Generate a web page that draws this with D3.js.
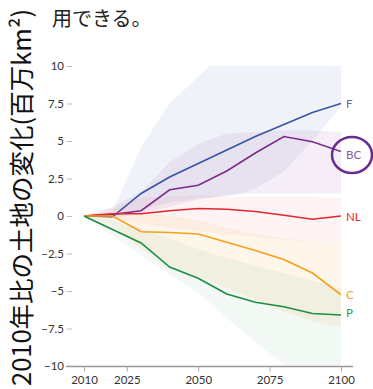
<!DOCTYPE html>
<html>
<head>
<meta charset="utf-8">
<script src="https://cdn.jsdelivr.net/npm/d3@7"></script>
<style>
  body { margin: 0; background: #fff; }
  svg { display: block; }
  .tick text { font-family: Lato, "Open Sans", sans-serif; font-size: 11.5px; fill: #333; }
</style>
</head>
<body>
<svg id="chart" width="373" height="389"></svg>
<script>
// years sampled by the scenario runs
const years = [2010, 2020, 2030, 2040, 2050, 2060, 2070, 2080, 2090, 2100];
const seriesNames = ["F", "BC", "NL", "C", "P"];
const seriesColors = ["#3953a4", "#7d2b8b", "#e3262e", "#f6a01a", "#1e8c45"];
const labelColors = ["#5b6db3", "#8a5a9c", "#e3262e", "#f0a030", "#2e9a55"];

// median change (million km2)
const valF  = [0, -0.05, 1.5, 2.6, 3.5, 4.4, 5.3, 6.1, 6.9, 7.5];
const valBC = [0, 0.1, 0.35, 1.75, 2.05, 3.0, 4.2, 5.3, 4.95, 4.3];
const valNL = [0, 0.15, 0.15, 0.35, 0.5, 0.45, 0.3, 0.05, -0.22, 0.0];
const valC  = [0, 0, -1.05, -1.1, -1.2, -1.75, -2.3, -2.9, -3.8, -5.25];
const valP  = [0, -0.9, -1.8, -3.4, -4.15, -5.2, -5.75, -6.05, -6.5, -6.6];

// uncertainty range, low / high
const lowF  = [0, 0, 0.4, 0.9, 1.2, 1.3, 1.8, 3.0, 5.0, 7.3];
const highF = [0, 0.3, 4.6, 7.5, 9.3, 11, 12, 13, 14, 15];
const lowBC  = [0, -0.1, 0.2, 0.6, 1.1, 1.4, 1.5, 1.5, 1.5, 1.5];
const highBC = [0, 0.6, 1.6, 3.6, 4.8, 5.5, 5.6, 5.7, 5.7, 5.6];
const lowNL  = [0, -0.2, -0.5, -0.8, -1.0, -1.2, -1.4, -1.6, -1.7, -1.8];
const highNL = [0, 0.5, 1.2, 1.3, 1.4, 1.3, 1.3, 1.3, 1.3, 1.2];
const lowC  = [0, -0.6, -2.2, -3.2, -4.0, -4.8, -5.6, -6.4, -7.0, -7.4];
const highC = [0, 0.2, 0.2, 0, -0.3, -0.8, -1.2, -1.5, -1.7, -1.8];
const lowP  = [0, -1.3, -2.6, -3.9, -5.1, -6.8, -8.4, -9.9, -11.5, -13];
const highP = [0, -0.3, -0.8, -1.5, -2.2, -2.8, -3.3, -3.8, -4.3, -4.8];

const yTicks = [10, 7.5, 5, 2.5, 0, -2.5, -5, -7.5, -10];
const xTicks = [2010, 2025, 2050, 2075, 2100];
const labelNudge = [0, 3, 1, 0, -2];

const values = [valF, valBC, valNL, valC, valP];
const lows = [lowF, lowBC, lowNL, lowC, lowP];
const highs = [highF, highBC, highNL, highC, highP];
const bandOpacity = [0.08, 0.08, 0.05, 0.09, 0.06];

const svg = d3.select("#chart");
const x = d3.scaleLinear().domain([2010, 2100]).range([84, 341]);
const y = d3.scaleLinear().domain([-10, 10]).range([366, 66]);

svg.append("defs").append("clipPath").attr("id", "plot")
  .append("rect").attr("x", 84).attr("y", 66).attr("width", 257).attr("height", 300);

const plot = svg.append("g").attr("clip-path", "url(#plot)");

// bands
const area = d3.area()
  .x((d, i) => x(years[i]))
  .y0(d => y(d[0]))
  .y1(d => y(d[1]));

seriesNames.forEach((name, s) => {
  const pts = years.map((yr, i) => [lows[s][i], highs[s][i]]);
  plot.append("path")
    .attr("d", area(pts))
    .attr("fill", seriesColors[s])
    .attr("fill-opacity", bandOpacity[s]);
});

// lines
const line = d3.line().x((d, i) => x(years[i])).y(d => y(d));
seriesNames.forEach((name, s) => {
  plot.append("path")
    .attr("d", line(values[s]))
    .attr("fill", "none")
    .attr("stroke", seriesColors[s])
    .attr("stroke-width", 1.6);
});

// end labels
seriesNames.forEach((name, s) => {
  const last = values[s][values[s].length - 1];
  svg.append("text")
    .attr("x", 346)
    .attr("y", y(last) + labelNudge[s])
    .attr("dy", "0.36em")
    .attr("font-family", "Lato, 'Open Sans', sans-serif")
    .attr("font-size", 11.5)
    .attr("fill", labelColors[s])
    .text(name);
});

// BC highlight circle
const bcEnd = y(valBC[valBC.length - 1]);
svg.append("ellipse")
  .attr("cx", 352).attr("cy", bcEnd + 3.5)
  .attr("rx", 20).attr("ry", 18)
  .attr("fill", "none")
  .attr("stroke", "#6a2c91")
  .attr("stroke-width", 2.5);

// y axis (ticks only)
const yAxis = svg.append("g").attr("transform", "translate(72,0)")
  .call(d3.axisLeft(y).tickValues(yTicks).tickSize(5).tickPadding(3).tickFormat(d3.format("~g")));
yAxis.select(".domain").remove();
yAxis.selectAll(".tick line").attr("stroke", "#bbb");

// x axis
const xAxis = svg.append("g").attr("transform", "translate(0,366.5)")
  .call(d3.axisBottom(x).tickValues(xTicks).tickSize(5).tickPadding(4).tickFormat(d3.format("d")));
xAxis.select(".domain").attr("d", "M66,0H353").attr("stroke", "#999").attr("stroke-width", 1.5);
xAxis.selectAll(".tick line").attr("stroke", "#aaa");

// y title
svg.append("text")
  .attr("transform", "translate(31,386) rotate(-90)")
  .attr("font-family", "'Noto Sans CJK JP', sans-serif")
  .attr("font-size", 25.5)
  .attr("fill", "#111")
  .text("2010年比の土地の変化(百万km²)");

// title fragment
svg.append("text")
  .attr("x", 52).attr("y", 26)
  .attr("font-family", "'Noto Sans CJK JP', sans-serif")
  .attr("font-size", 20)
  .attr("fill", "#222")
  .text("用できる。");
</script>
</body>
</html>
